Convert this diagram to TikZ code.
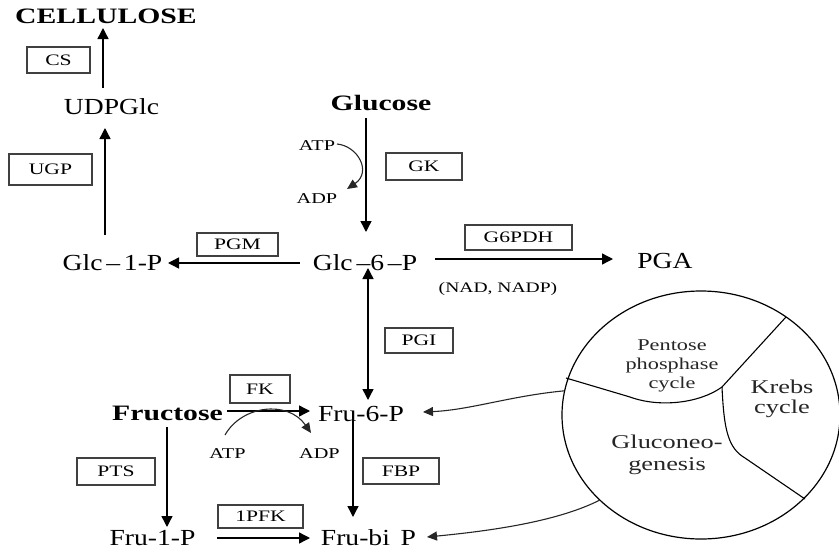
\documentclass[tikz,border=0pt]{standalone}
\usepackage{fontspec}
\setmainfont{Liberation Serif}[FakeStretch=1.2]
\newfontfamily\wide{Liberation Serif}[FakeStretch=1.35]
\usetikzlibrary{arrows.meta,shapes.geometric}
\begin{document}
\begin{tikzpicture}[x=1pt,y=-1pt,
  lab/.style={anchor=base, inner sep=0pt, font=\fontsize{23}{26}\selectfont},
  blab/.style={anchor=base, inner sep=0pt, font=\wide\bfseries\fontsize{22}{26}\selectfont},
  slab/.style={anchor=base, inner sep=0pt, font=\wide\fontsize{15}{18}\selectfont},
  enz/.style={draw=black!75, line width=1.2pt, inner sep=0pt, font=\wide\fontsize{16}{18}\selectfont},
  ctext/.style={align=center, inner sep=0pt, text=black!85},
  arr/.style={-{Triangle[length=11pt,width=11pt]}, line width=1.4pt},
  darr/.style={{Triangle[length=11pt,width=11pt]}-{Triangle[length=11pt,width=11pt]}, line width=1.4pt},
  thin arr/.style={-{Triangle[length=10pt,width=9pt]}, line width=1.1pt, black!85}]
\useasboundingbox (0,0) rectangle (839,552);

% metabolites
\node[blab] (cell) at (106,23) {CELLULOSE};
\node[lab] (udp) at (111.5,114) {UDPGlc};
\node[lab] (g1p) at (112.5,270) {Glc\,–\,1-P};
\node[blab] (glc) at (381,110) {Glucose};
\node[lab] (g6p) at (365,270) {Glc\,–6\,–P};
\node[lab] (pga) at (665,268) {PGA};
\node[slab] (atp1) at (317,150) {ATP};
\node[slab] (adp1) at (317,203) {ADP};
\node[slab, font=\wide\fontsize{14.5}{17}\selectfont] (nad) at (498,292) {(NAD, NADP)};
\node[blab] (fru) at (167.5,420) {Fructose};
\node[lab] (f6p) at (361,421) {Fru-6-P};
\node[slab] (atp2) at (227.5,458) {ATP};
\node[slab] (adp2) at (319.5,458) {ADP};
\node[lab] (f1p) at (152.5,545) {Fru-1-P};
\node[lab] (fbp) at (368.5,545) {Fru-bi\, P};

% enzymes
\node[enz, minimum width=63pt, minimum height=26pt] (cs) at (58.5,60) {CS};
\node[enz, minimum width=83pt, minimum height=31pt] (ugp) at (50.5,169.5) {UGP};
\node[enz, minimum width=81pt, minimum height=23pt] (pgm) at (237.5,244.5) {PGM};
\node[enz, minimum width=76pt, minimum height=27pt] (gk) at (424,166.5) {GK};
\node[enz, minimum width=107pt, minimum height=25pt] (g6pdh) at (518.5,237.5) {G6PDH};
\node[enz, minimum width=68pt, minimum height=25pt] (pgi) at (419,340.5) {PGI};
\node[enz, minimum width=60pt, minimum height=28pt] (fk) at (260,389) {FK};
\node[enz, minimum width=78pt, minimum height=27pt] (pts) at (116,471.5) {PTS};
\node[enz, minimum width=76pt, minimum height=26pt] (fbpase) at (401,471) {FBP};
\node[enz, minimum width=85pt, minimum height=23pt] (pfk) at (260.5,516.5) {1PFK};

% cycle circle
\node[draw, ellipse, line width=1.2pt, minimum width=278pt, minimum height=248pt, inner sep=0pt] (cyc) at (701,415) {};
\coordinate (jl) at (566,378);
\coordinate (jc) at (722,387);
\coordinate (jt) at (786,317);
\coordinate (jb) at (805,499);
\draw[line width=1.1pt] (jl) -- (630,397) .. controls (660,408) and (700,403) .. (jc) -- (jt);
\draw[line width=1.1pt] (jc) .. controls (724,430) and (728,448) .. (745,458) -- (jb);
\node[ctext, font=\wide\fontsize{16.5}{19}\selectfont] (ppc) at (672,366) {Pentose\\phosphase\\cycle};
\node[ctext, font=\wide\fontsize{19.5}{20}\selectfont] (krebs) at (782,399) {Krebs\\cycle};
\node[ctext, font=\wide\fontsize{19.5}{22}\selectfont] (gng) at (667,455) {Gluconeo-\\genesis};

% connector end points
\coordinate (a1s) at (103,88);   \coordinate (a1e) at (103,28);
\coordinate (a2s) at (105,235);  \coordinate (a2e) at (105,128);
\coordinate (a3s) at (300,263);  \coordinate (a3e) at (168,263);
\coordinate (a4s) at (366,118);  \coordinate (a4e) at (366,232);
\coordinate (a5s) at (435,259);  \coordinate (a5e) at (613,259);
\coordinate (a6s) at (368,268);  \coordinate (a6e) at (368,400);
\coordinate (a7s) at (227,411);  \coordinate (a7e) at (310,411);
\coordinate (a8s) at (167,427);  \coordinate (a8e) at (167,527);
\coordinate (a9s) at (353,418);  \coordinate (a9e) at (353,517);
\coordinate (a10s) at (217,538); \coordinate (a10e) at (310,538);
\coordinate (a11e) at (423,412);
\coordinate (a12e) at (427,537);
\coordinate (c1s) at (337,144);  \coordinate (c1e) at (347,189);
\coordinate (c2s) at (225,435);  \coordinate (c2e) at (311,433);

\draw[arr] (a1s) -- (a1e);
\draw[arr] (a2s) -- (a2e);
\draw[arr] (a3s) -- (a3e);
\draw[arr] (a4s) -- (a4e);
\draw[arr] (a5s) -- (a5e);
\draw[darr] (a6s) -- (a6e);
\draw[arr] (a7s) -- (a7e);
\draw[arr] (a8s) -- (a8e);
\draw[arr] (a9s) -- (a9e);
\draw[arr] (a10s) -- (a10e);
\draw[thin arr] (cyc.170.6) .. controls (510,396) and (470,410) .. (a11e);
\draw[thin arr] (cyc.220.5) .. controls (560,520) and (500,530) .. (a12e);
\draw[thin arr] (c1s) .. controls (358,146) and (372,172) .. (c1e);
\draw[thin arr] (c2s) .. controls (242,405) and (288,400) .. (c2e);
\end{tikzpicture}
\end{document}
